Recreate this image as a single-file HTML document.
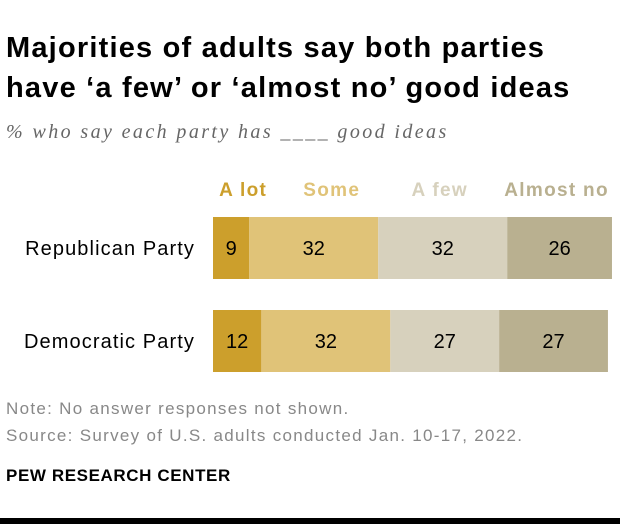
<!DOCTYPE html>
<html><head><meta charset="utf-8"><style>
body{margin:0;background:#fff;font-family:"Liberation Sans",sans-serif;}
#wrap{position:relative;width:620px;height:524px;overflow:hidden;}
.t{position:absolute;white-space:nowrap;}
</style></head><body>
<div id="wrap">
<div class="t" style="left:6px;top:28px;font-size:29px;font-weight:bold;line-height:40px;color:#000;letter-spacing:1.2px">Majorities of adults say both parties<br>have ‘a few’ or ‘almost no’ good ideas</div>
<div class="t" style="left:6px;top:121px;font-size:20px;font-style:italic;color:#666;font-family:'Liberation Serif',serif;letter-spacing:2.4px">% who say each party has ____ good ideas</div>
<svg id="svg" width="620" height="524" style="position:absolute;left:0;top:0"></svg>
<div class="t" style="left:6px;top:399px;font-size:17px;color:#888;letter-spacing:1.3px">Note: No answer responses not shown.</div>
<div class="t" style="left:6px;top:426px;font-size:17px;color:#888;letter-spacing:1.3px">Source: Survey of U.S. adults conducted Jan. 10-17, 2022.</div>
<div class="t" style="left:6px;top:466px;font-size:17px;font-weight:bold;color:#000;letter-spacing:0.6px">PEW RESEARCH CENTER</div>
<div style="position:absolute;left:0;top:518px;width:620px;height:6px;background:#000"></div>
</div>
<script>
const categories=["Republican Party","Democratic Party"];
const seriesNames=["A lot","Some","A few","Almost no"];
const aLot=[9,12];
const some=[32,32];
const aFew=[32,27];
const almostNo=[26,27];
const series=[aLot,some,aFew,almostNo];
const colors=["#CC9F2C","#E0C378","#D7D1BD","#B9B090"];
const headerOffset=[12,18,-3,-3];
const x0=213,scale=4.03,rowTop=[217,310],bh=62;
const xs=v=>v*scale;
const svg=document.getElementById('svg');
const NS="http://www.w3.org/2000/svg";
function mk(t,a){const e=document.createElementNS(NS,t);for(const k in a)e.setAttribute(k,a[k]);svg.appendChild(e);return e;}
categories.forEach((c,i)=>{
  const lab=mk('text',{x:195,y:rowTop[i]+bh/2+7,'text-anchor':'end','font-size':20,'letter-spacing':1.1,fill:'#000','font-family':'Liberation Sans, sans-serif'});
  lab.textContent=c;
  
  
  let cum=0;
  series.forEach((s,j)=>{
    const x=x0+xs(cum),w=xs(s[i]);
    const r=mk('rect',{x:x,y:rowTop[i],width:w,height:bh,fill:colors[j]});
    
    
    const t=mk('text',{x:x+w/2,y:rowTop[i]+bh/2+7,'text-anchor':'middle','font-size':20,fill:'#000','font-family':'Liberation Sans, sans-serif'});
    t.textContent=s[i];
    
    
    if(i===0){
      const h=mk('text',{x:x+w/2+headerOffset[j],y:196,'text-anchor':'middle','font-size':19,'letter-spacing':1.3,'font-weight':'bold',fill:colors[j],'font-family':'Liberation Sans, sans-serif'});
      h.textContent=seriesNames[j];
      
      
    }
    cum+=s[i];
  });
});
</script>
</body></html>
